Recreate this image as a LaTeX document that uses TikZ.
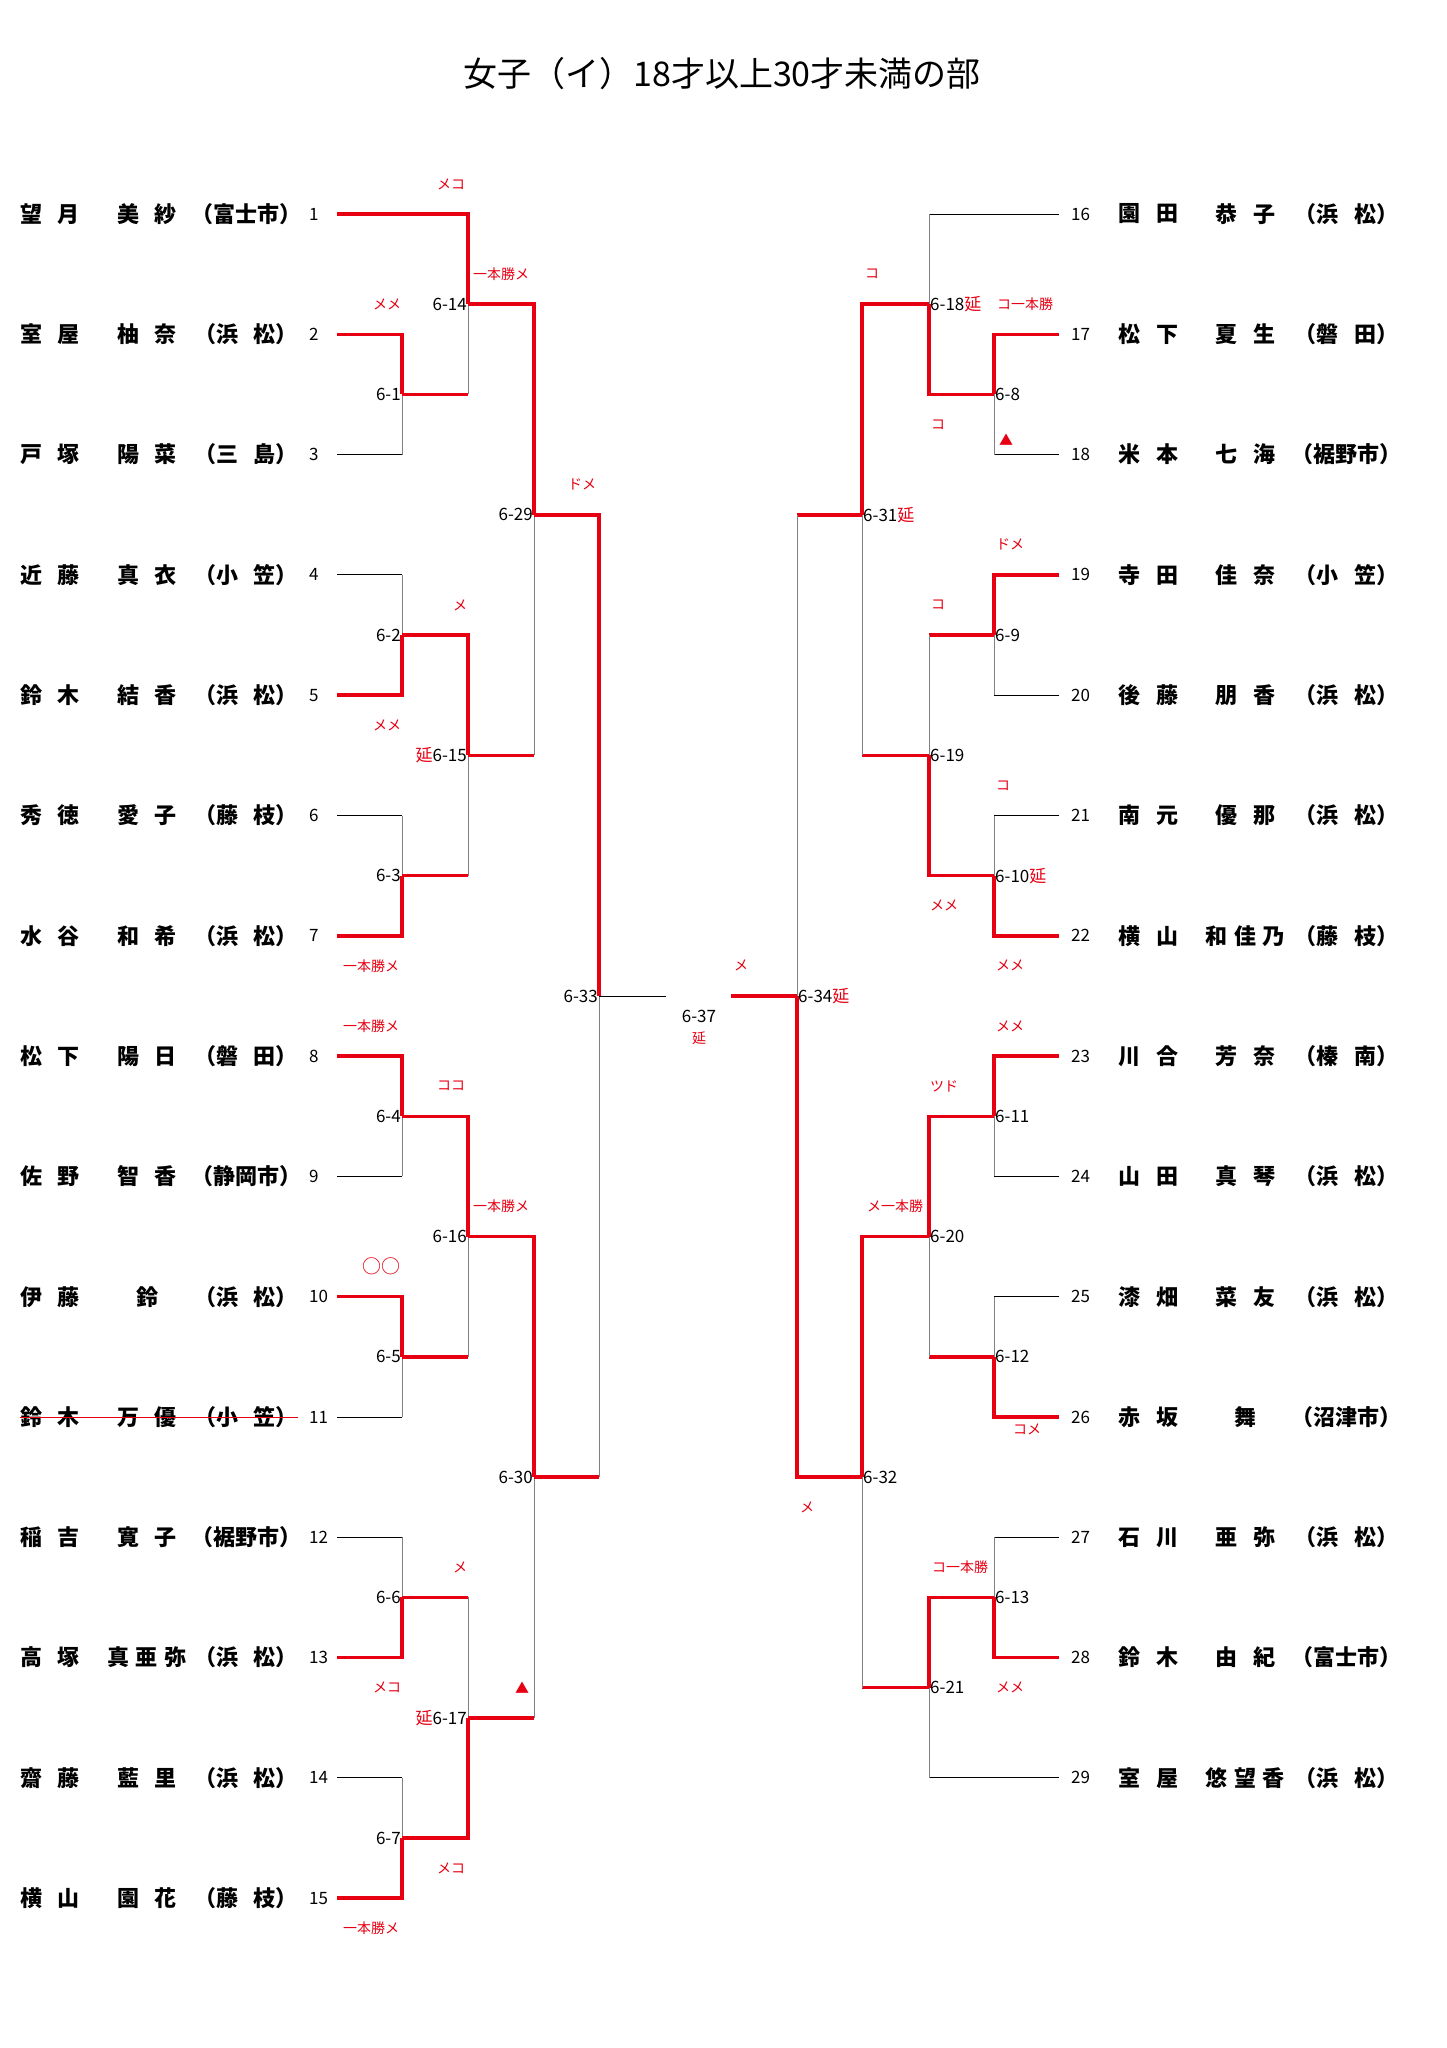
\documentclass[tikz,border=0pt]{standalone}
\usepackage{fontspec}
\setmainfont{Noto Sans CJK JP}
\definecolor{kred}{RGB}{230,0,18}
\newcommand\nsp{\hspace{16pt}}
\newcommand\tsp{\hspace{6.5pt}}
% winner path, losing player, losing match entrant
\newcommand\wn[2]{\draw[win] (#1) -| (#2);}
\newcommand\lp[2]{\draw[loseh] (#1) -- (#1 -| #2); \draw[losev] (#1 -| #2) -- (#2);}
\newcommand\lm[2]{\draw[win] (#1) -- (#1 -| #2); \draw[losev] (#1 -| #2) -- (#2);}
\tikzset{
  win/.style={draw=kred, line width=3.5pt, line cap=square},
  loseh/.style={draw=black, line width=0.9pt},
  losev/.style={draw=black!50, line width=0.9pt},
  num/.style={font=\fontsize{17}{17}\selectfont, inner sep=0pt},
  mlabel/.style={font=\fontsize{17}{17}\selectfont, inner sep=1pt},
  waza/.style={text=kred, font=\fontsize{14}{14}\selectfont, inner sep=0pt},
  nm/.style={font=\fontsize{22}{22}\selectfont\bfseries, inner sep=0pt},
  strike/.style={draw=kred, line width=1pt},
}
\begin{document}
\begin{tikzpicture}[x=1pt, y=-120.3pt]
    \useasboundingbox (0,-1.7789) rectangle (1447,15.2452);
    \node[font=\fontsize{34}{34}\selectfont] (title) at (722,-1.164) {女子（イ）18才以上30才未満の部};
    % left players
    \foreach \i/\sa/\gv/\ct in {
      1/望\nsp 月/美\nsp 紗/（富士市）,
      2/室\nsp 屋/柚\nsp 奈/（浜\nsp 松）,
      3/戸\nsp 塚/陽\nsp 菜/（三\nsp 島）,
      4/近\nsp 藤/真\nsp 衣/（小\nsp 笠）,
      5/鈴\nsp 木/結\nsp 香/（浜\nsp 松）,
      6/秀\nsp 徳/愛\nsp 子/（藤\nsp 枝）,
      7/水\nsp 谷/和\nsp 希/（浜\nsp 松）,
      8/松\nsp 下/陽\nsp 日/（磐\nsp 田）,
      9/佐\nsp 野/智\nsp 香/（静岡市）,
      10/伊\nsp 藤/鈴/（浜\nsp 松）,
      11/鈴\nsp 木/万\nsp 優/（小\nsp 笠）,
      12/稲\nsp 吉/寛\nsp 子/（裾野市）,
      13/高\nsp 塚/真\tsp 亜\tsp 弥/（浜\nsp 松）,
      14/齋\nsp 藤/藍\nsp 里/（浜\nsp 松）,
      15/横\nsp 山/園\nsp 花/（藤\nsp 枝）}{
      \node[nm] (sa\i) at (50,\i-1) {\sa};
      \node[nm] (gv\i) at (147,\i-1) {\gv};
      \node[nm] (ct\i) at (246,\i-1) {\ct};
      \node[num, anchor=west] (n\i) at (309,\i-1) {\i};
      \coordinate (p\i) at (337,\i-1);
    }
    % right players
    \foreach \i/\sa/\gv/\ct in {
      16/園\nsp 田/恭\nsp 子/（浜\nsp 松）,
      17/松\nsp 下/夏\nsp 生/（磐\nsp 田）,
      18/米\nsp 本/七\nsp 海/（裾野市）,
      19/寺\nsp 田/佳\nsp 奈/（小\nsp 笠）,
      20/後\nsp 藤/朋\nsp 香/（浜\nsp 松）,
      21/南\nsp 元/優\nsp 那/（浜\nsp 松）,
      22/横\nsp 山/和\tsp 佳\tsp 乃/（藤\nsp 枝）,
      23/川\nsp 合/芳\nsp 奈/（榛\nsp 南）,
      24/山\nsp 田/真\nsp 琴/（浜\nsp 松）,
      25/漆\nsp 畑/菜\nsp 友/（浜\nsp 松）,
      26/赤\nsp 坂/舞/（沼津市）,
      27/石\nsp 川/亜\nsp 弥/（浜\nsp 松）,
      28/鈴\nsp 木/由\nsp 紀/（富士市）,
      29/室\nsp 屋/悠\tsp 望\tsp 香/（浜\nsp 松）}{
      \node[nm] (sa\i) at (1148,\i-16) {\sa};
      \node[nm] (gv\i) at (1245,\i-16) {\gv};
      \node[nm] (ct\i) at (1346,\i-16) {\ct};
      \node[num, anchor=west] (n\i) at (1071,\i-16) {\i};
      \coordinate (p\i) at (1059,\i-16);
    }
    \draw[strike] (sa11.west |- p11) -- (ct11.east |- p11);
    % match points
    \coordinate (m1) at (402,1.5);   \coordinate (m14) at (468,0.75);
    \coordinate (m2) at (402,3.5);   \coordinate (m3) at (402,5.5);
    \coordinate (m15) at (468,4.5);  \coordinate (m29) at (534,2.5);
    \coordinate (m4) at (402,7.5);   \coordinate (m5) at (402,9.5);
    \coordinate (m16) at (468,8.5);  \coordinate (m6) at (402,11.5);
    \coordinate (m7) at (402,13.5);  \coordinate (m17) at (468,12.5);
    \coordinate (m30) at (534,10.5); \coordinate (m33) at (599,6.5);
    \coordinate (f33) at (666,6.5);
    \coordinate (m8) at (994,1.5);   \coordinate (m18) at (929,0.75);
    \coordinate (m9) at (994,3.5);   \coordinate (m10) at (994,5.5);
    \coordinate (m19) at (929,4.5);  \coordinate (m31) at (862,2.5);
    \coordinate (m11) at (994,7.5);  \coordinate (m12) at (994,9.5);
    \coordinate (m20) at (929,8.5);  \coordinate (m13) at (994,11.5);
    \coordinate (m21) at (929,12.25); \coordinate (m32) at (862,10.5);
    \coordinate (m34) at (797,6.5);  \coordinate (f34) at (731,6.5);
    % left bracket
    \lp{p3}{m1} \wn{p2}{m1}
    \lm{m1}{m14} \wn{p1}{m14}
    \lp{p4}{m2} \wn{p5}{m2}
    \lp{p6}{m3} \wn{p7}{m3}
    \lm{m3}{m15} \wn{m2}{m15}
    \lm{m15}{m29} \wn{m14}{m29}
    \lp{p9}{m4} \wn{p8}{m4}
    \lp{p11}{m5} \wn{p10}{m5}
    \lm{m5}{m16} \wn{m4}{m16}
    \lp{p12}{m6} \wn{p13}{m6}
    \lp{p14}{m7} \wn{p15}{m7}
    \lm{m6}{m17} \wn{m7}{m17}
    \lm{m17}{m30} \wn{m16}{m30}
    \lm{m30}{m33} \wn{m29}{m33}
    % right bracket
    \lp{p18}{m8} \wn{p17}{m8}
    \lp{p16}{m18} \wn{m8}{m18}
    \lp{p20}{m9} \wn{p19}{m9}
    \lp{p21}{m10} \wn{p22}{m10}
    \lm{m9}{m19} \wn{m10}{m19}
    \lm{m19}{m31} \wn{m18}{m31}
    \lp{p24}{m11} \wn{p23}{m11}
    \lp{p25}{m12} \wn{p26}{m12}
    \lm{m12}{m20} \wn{m11}{m20}
    \lp{p27}{m13} \wn{p28}{m13}
    \lp{p29}{m21} \wn{m13}{m21}
    \lm{m21}{m32} \wn{m20}{m32}
    \lm{m31}{m34} \wn{m32}{m34}
    % final
    \draw[loseh] (m33) -- (f33);
    \draw[win] (m34) -- (f34);
    % match labels
    \foreach \m/\txt in {1/6-1, 14/6-14, 2/6-2, 3/6-3, 15/\textcolor{kred}{延}6-15, 29/6-29,
      4/6-4, 5/6-5, 16/6-16, 6/6-6, 7/6-7, 17/\textcolor{kred}{延}6-17, 30/6-30, 33/6-33}
      \node[mlabel, anchor=east] (l\m) at (m\m) {\txt};
    \foreach \m/\txt in {8/6-8, 18/6-18\textcolor{kred}{延}, 9/6-9, 10/6-10\textcolor{kred}{延},
      19/6-19, 31/6-31\textcolor{kred}{延}, 11/6-11, 12/6-12, 20/6-20, 13/6-13, 21/6-21,
      32/6-32, 34/6-34\textcolor{kred}{延}}
      \node[mlabel, anchor=west] (l\m) at (m\m) {\txt};
    \node[mlabel] (l37) at (699,6.67) {6-37};
    \node[waza] (e37) at (699,6.85) {延};
    % waza marks
    \foreach \x/\yy/\txt [count=\n] in {451/-0.25/メコ, 501/0.5/一本勝メ, 387/0.75/メメ,
      582/2.25/ドメ, 460/3.25/メ, 387/4.25/メメ, 371/6.25/一本勝メ, 371/6.75/一本勝メ,
      451/7.25/ココ, 501/8.25/一本勝メ, 381/8.75/{\fontsize{19}{19}\selectfont ○○}, 460/11.25/メ, 387/12.25/メコ,
      522/12.25/▲, 451/13.75/メコ, 371/14.25/一本勝メ,
      872/0.5/コ, 1025/0.75/コ一本勝, 938/1.75/コ, 1006/1.88/▲, 1010/2.75/ドメ,
      938/3.25/コ, 1003/4.75/コ, 944/5.75/メメ, 1010/6.25/メメ, 741/6.25/メ,
      1010/6.75/メメ, 944/7.25/ツド, 895/8.25/メ一本勝, 1027/10.1/コメ,
      807/10.75/メ, 960/11.25/コ一本勝, 1010/12.25/メメ}
      \node[waza] (w\n) at (\x,\yy) {\txt};
\end{tikzpicture}
\end{document}
